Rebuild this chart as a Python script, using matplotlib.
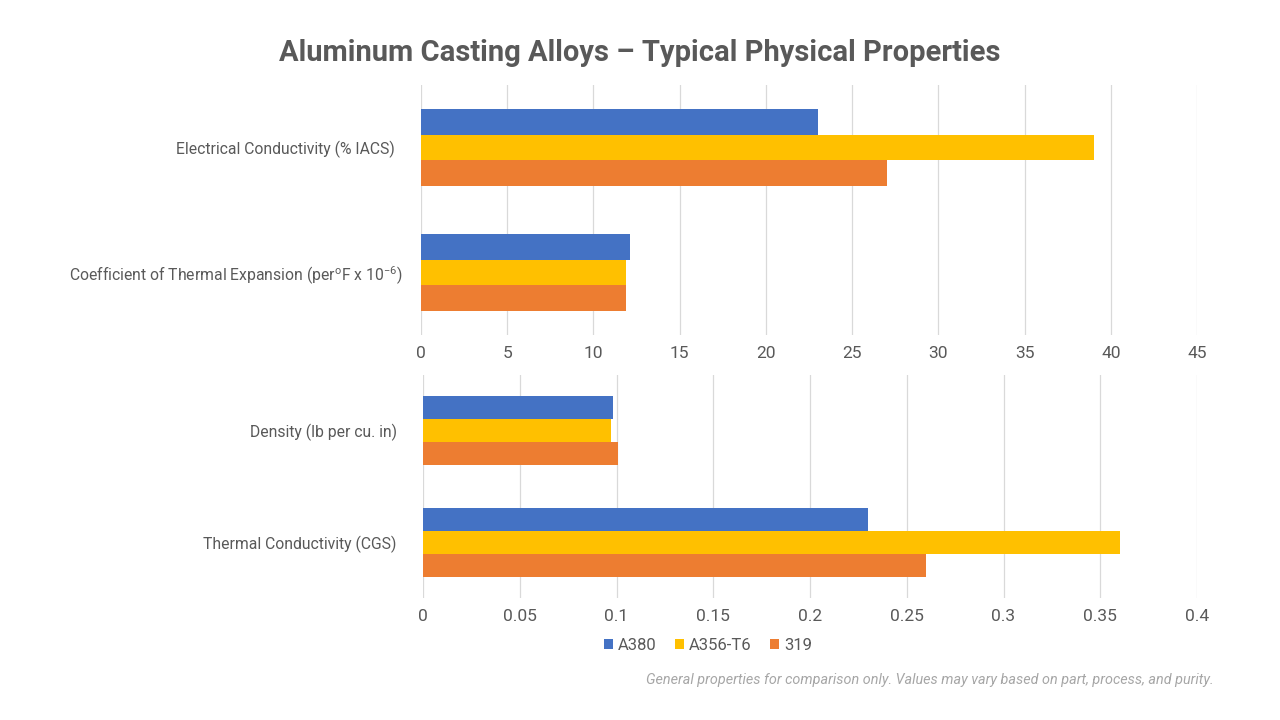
import matplotlib.pyplot as plt
import numpy as np

plt.rcParams['font.family'] = ['Roboto', 'DejaVu Sans']
plt.rcParams['mathtext.default'] = 'regular'

# data
alloys = ["A380", "A356-T6", "319"]
colors = ["#4472c4", "#ffc000", "#ed7d31"]

top_cats = ["Electrical Conductivity (% IACS)",
            "Coefficient of Thermal Expansion (per$^{o}$F x 10$^{-6}$)"]
top_a380 = [23, 12.1]
top_a356 = [39, 11.9]
top_319 = [27, 11.9]
top_ticks = [0, 5, 10, 15, 20, 25, 30, 35, 40, 45]

bot_cats = ["Density (lb per cu. in)", "Thermal Conductivity (CGS)"]
bot_a380 = [0.098, 0.23]
bot_a356 = [0.097, 0.36]
bot_319 = [0.101, 0.26]
bot_ticks = [0, 0.05, 0.1, 0.15, 0.2, 0.25, 0.3, 0.35, 0.4]
bot_ticklabels = ["0", "0.05", "0.1", "0.15", "0.2", "0.25", "0.3", "0.35", "0.4"]

TXT = "#595959"
GRID = "#d9d9d9"


def draw_panel(ax, cats, series, ticks, ticklabels=None):
    y = np.arange(len(cats))
    h = 0.207
    handles = []
    for i, (vals, c, name) in enumerate(zip(series, colors, alloys)):
        b = ax.barh(y + (i - 1) * h, vals, height=h, color=c, label=name, zorder=3)
        handles.append(b)
    ax.set_ylim(-0.5, len(cats) - 0.5)
    ax.invert_yaxis()
    ax.set_yticks(y)
    ax.set_yticklabels(cats)
    ax.set_xlim(ticks[0], ticks[-1])
    ax.set_xticks(ticks)
    if ticklabels is not None:
        ax.set_xticklabels(ticklabels)
    ax.grid(axis="x", color=GRID, linewidth=0.9, zorder=0)
    for s in ax.spines.values():
        s.set_visible(False)
    ax.tick_params(axis="x", length=0, pad=8, labelsize=12.5, labelcolor=TXT)
    ax.tick_params(axis="y", length=0, pad=19, labelsize=11.3, labelcolor=TXT)
    return handles


fig = plt.figure(figsize=(12.8, 7.2), dpi=100)
ax1 = fig.add_axes([0.3289, 0.5347, 0.9352 - 0.3289, 0.882 - 0.5347])
ax2 = fig.add_axes([0.3305, 0.1694, 0.9352 - 0.3305, 0.479 - 0.1694])

draw_panel(ax1, top_cats, [top_a380, top_a356, top_319], top_ticks)
handles = draw_panel(ax2, bot_cats, [bot_a380, bot_a356, bot_319], bot_ticks, bot_ticklabels)

# superscript label sits a bit further right in the reference
ax1.get_yticklabels()[1].set_x(0.01)

fig.text(0.5, 0.926, "Aluminum Casting Alloys \u2013 Typical Physical Properties",
         ha="center", va="center", fontsize=21, fontweight="bold", color=TXT)

leg = fig.legend(handles=handles, labels=alloys, loc="center", bbox_to_anchor=(0.553, 0.104),
                 ncol=3, frameon=False, fontsize=12, handlelength=0.55, handleheight=0.55,
                 handletextpad=0.3, columnspacing=1.1)
for t in leg.get_texts():
    t.set_color(TXT)

fig.text(0.948, 0.055,
         "General properties for comparison only. Values may vary based on part, process, and purity.",
         ha="right", va="center", fontsize=10.4, style="italic", color="#a6a6a6")

fig.savefig("out.png", dpi=100, facecolor="white")
